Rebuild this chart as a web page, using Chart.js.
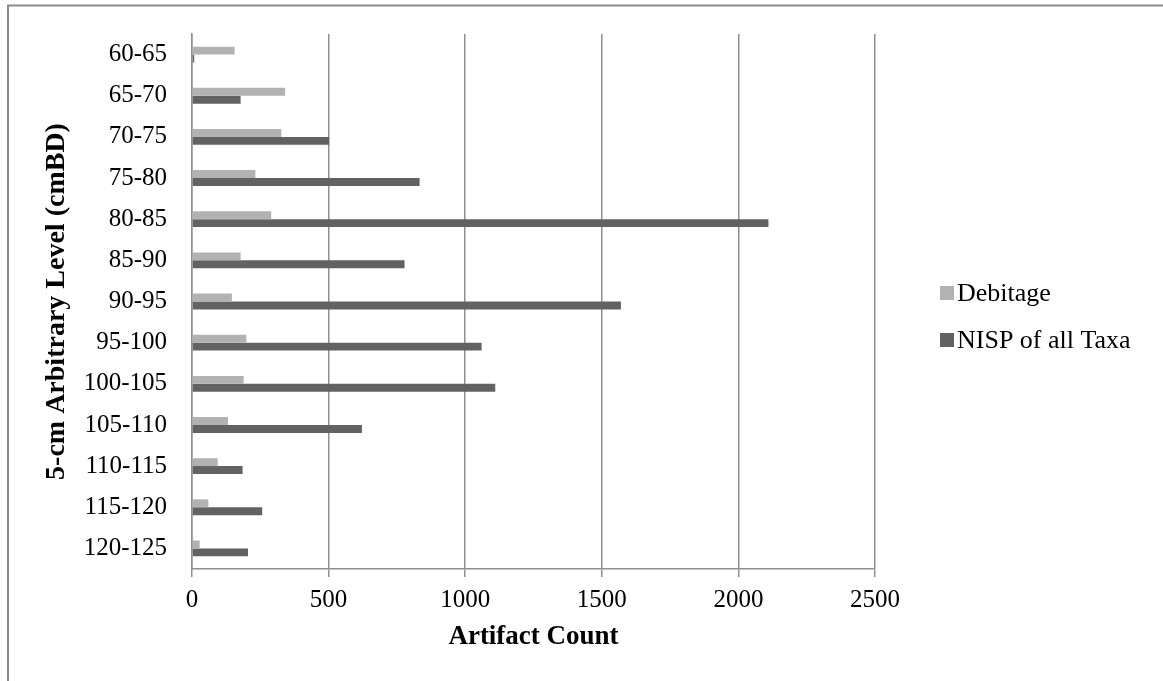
<!DOCTYPE html>
<html>
<head>
<meta charset="utf-8">
<script src="https://cdn.jsdelivr.net/npm/chart.js@4.4.1/dist/chart.umd.min.js"></script>
<style>
  html, body { margin: 0; padding: 0; background: #ffffff; }
  #wrap { position: relative; width: 1163px; height: 681px; }
  canvas { display: block; }
</style>
</head>
<body>
<div id="wrap"><canvas id="chart" width="1163" height="681"></canvas></div>
<script>
// Depth levels (5-cm arbitrary levels, cm below datum)
const levels = ['60-65', '65-70', '70-75', '75-80', '80-85', '85-90', '90-95',
                '95-100', '100-105', '105-110', '110-115', '115-120', '120-125'];

// Counts per level
const debitage = [156, 341, 327, 232, 290, 178, 146, 199, 189, 132, 94, 60, 28];
const nispAllTaxa = [8, 178, 502, 833, 2110, 778, 1570, 1060, 1110, 622, 185, 257, 205];

// Count axis ticks
const countTicks = [0, 500, 1000, 1500, 2000, 2500];

const SERIF = "'Liberation Serif', 'Times New Roman', serif";
const GRID = '#8f8f8f';

// Outer frame of the chart object
const framePlugin = {
  id: 'frame',
  beforeDraw(chart) {
    const ctx = chart.ctx;
    ctx.save();
    ctx.fillStyle = '#ffffff';
    ctx.fillRect(0, 0, chart.width, chart.height);
    ctx.strokeStyle = '#8a8a8a';
    ctx.lineWidth = 2;
    ctx.beginPath();
    ctx.moveTo(8, chart.height);
    ctx.lineTo(8, 5.5);
    ctx.lineTo(chart.width, 5.5);
    ctx.stroke();
    ctx.restore();
  }
};

// Legend drawn at the right of the plot
const sideLegend = {
  id: 'sideLegend',
  afterDraw(chart) {
    const ctx = chart.ctx;
    const rows = [293, 340];
    ctx.save();
    ctx.font = '26px ' + SERIF;
    ctx.textBaseline = 'middle';
    ctx.textAlign = 'left';
    chart.data.datasets.forEach((ds, i) => {
      const y = rows[i];
      ctx.fillStyle = ds.backgroundColor;
      ctx.fillRect(940, y - 7, 14, 14);
      ctx.fillStyle = '#000000';
      ctx.fillText(ds.label, 957, y + 1);
    });
    ctx.restore();
  }
};

new Chart(document.getElementById('chart'), {
  type: 'bar',
  data: {
    labels: levels,
    datasets: [
      { label: 'Debitage', data: debitage, backgroundColor: '#b2b2b2', borderWidth: 0 },
      { label: 'NISP of all Taxa', data: nispAllTaxa, backgroundColor: '#626262', borderWidth: 0 }
    ]
  },
  options: {
    indexAxis: 'y',
    responsive: false,
    animation: false,
    devicePixelRatio: 1,
    layout: { padding: { left: 0, right: 288, top: 34, bottom: 0 } },
    datasets: { bar: { categoryPercentage: 0.385, barPercentage: 1.0 } },
    plugins: {
      legend: { display: false },
      tooltip: { enabled: false }
    },
    scales: {
      x: {
        type: 'linear',
        min: countTicks[0],
        max: countTicks[countTicks.length - 1],
        afterBuildTicks(scale) {
          scale.ticks = countTicks.map(v => ({ value: v }));
        },
        afterFit(scale) {
          scale.height = 112;
          scale.paddingLeft = 0;
          scale.paddingRight = 0;
        },
        grid: { display: true, color: GRID, lineWidth: 1.5, drawTicks: true, tickLength: 8 },
        border: { display: true, color: GRID, width: 1.5 },
        ticks: {
          color: '#000000',
          font: { family: SERIF, size: 25 },
          padding: 8,
          callback: (v) => String(v)
        },
        title: {
          display: true,
          text: 'Artifact Count',
          color: '#000000',
          font: { family: SERIF, size: 27, weight: 'bold' },
          padding: { top: 0, bottom: 28 }
        }
      },
      y: {
        type: 'category',
        afterFit(scale) {
          scale.width = 192;
          scale.paddingTop = 0;
          scale.paddingBottom = 0;
        },
        grid: { display: false, drawTicks: false },
        border: { display: true, color: GRID, width: 1.5 },
        ticks: { color: '#000000', font: { family: SERIF, size: 25 }, padding: 25 },
        title: {
          display: true,
          text: '5-cm Arbitrary Level (cmBD)',
          color: '#000000',
          font: { family: SERIF, size: 28, weight: 'bold' },
          padding: { top: 40, bottom: 0 }
        }
      }
    }
  },
  plugins: [framePlugin, sideLegend]
});
</script>
</body>
</html>
